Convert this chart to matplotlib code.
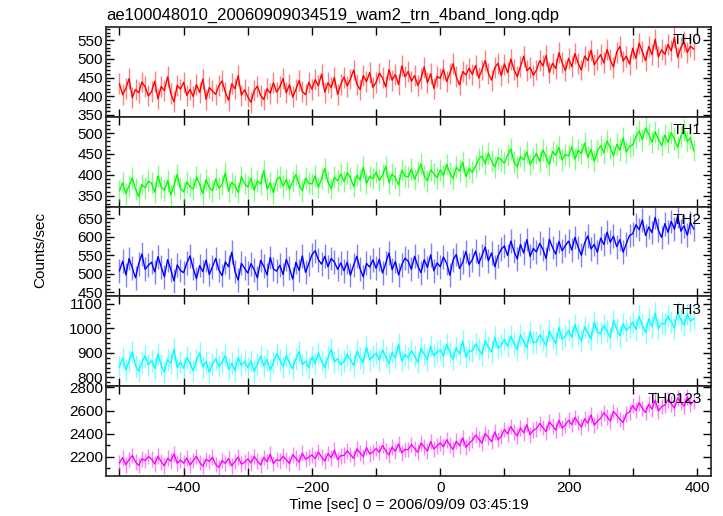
import numpy as np
import matplotlib
matplotlib.use("Agg")
import matplotlib.pyplot as plt
from matplotlib.ticker import MultipleLocator

plt.rcParams['font.family'] = ['Liberation Sans', 'DejaVu Sans']

title = "ae100048010_20060909034519_wam2_trn_4band_long.qdp"
xlabel = "Time [sec] 0 = 2006/09/09 03:45:19"
ylabel = "Counts/sec"
labels = ["TH0", "TH1", "TH2", "TH3", "TH0123"]
colors = ["#ff0000", "#00ff00", "#0000ff", "#00ffff", "#ff00ff"]

t_start = -500
bin_width = 5

th0 = [
    433, 404, 421, 447, 396, 418, 409, 438, 425, 401,
    412, 440, 393, 426, 415, 452, 407, 385, 429, 419,
    437, 402, 418, 399, 431, 410, 446, 392, 423, 414,
    405, 428, 441, 411, 389, 433, 420, 455, 403, 417,
    398, 384, 415, 427, 402, 391, 420, 408, 436, 411,
    425, 447, 409, 431, 398, 418, 442, 413, 404, 437,
    419, 444, 428, 459, 411, 436, 423, 450, 405, 432,
    451, 427, 446, 470, 432, 418, 455, 439, 463, 424,
    437, 462, 449, 425, 471, 443, 458, 431, 481, 452,
    466, 440, 455, 429, 447, 478, 436, 460, 421, 453,
    448, 472, 439, 461, 487, 452, 430, 466, 457, 475,
    458, 482, 449, 470, 495, 461, 443, 476, 488, 455,
    486, 463, 499, 471, 452, 480, 507, 468, 477, 456,
    470, 495, 481, 509, 463, 488, 474, 516, 490, 468,
    501, 479, 514, 488, 470, 507, 495, 523, 484, 498,
    511, 489, 525, 497, 478, 518, 533, 494, 507, 486,
    528, 501, 542, 519, 495, 533, 511, 552, 505, 524,
    512, 538, 521, 557, 504, 530, 545, 517, 534, 526,
]
th1 = [
    362, 381, 355, 374, 392, 366, 348, 377, 369, 385,
    380, 358, 397, 371, 363, 386, 352, 375, 401, 368,
    359, 383, 372, 366, 394, 378, 355, 388, 370, 362,
    390, 368, 377, 405, 361, 382, 374, 358, 395, 379,
    371, 392, 363, 385, 378, 410, 366, 381, 357, 388,
    395, 373, 389, 366, 384, 401, 377, 362, 392, 380,
    378, 398, 370, 391, 415, 383, 367, 394, 386, 402,
    384, 405, 393, 372, 399, 388, 418, 379, 396, 391,
    406, 387, 399, 420, 381, 402, 393, 376, 411, 397,
    395, 414, 389, 408, 426, 398, 385, 412, 403, 393,
    412, 398, 425, 404, 391, 418, 409, 430, 396, 415,
    406, 421, 438, 445, 427, 452, 433, 419, 441, 436,
    428, 447, 462, 431, 419, 444, 436, 455, 425, 439,
    451, 432, 460, 443, 424, 456, 447, 466, 436, 449,
    445, 467, 438, 459, 451, 476, 442, 461, 433, 457,
    470, 453, 481, 465, 446, 473, 459, 488, 455, 468,
    472, 491, 505, 484, 512, 497, 479, 503, 486, 470,
    495, 478, 501, 485, 466, 492, 507, 480, 489, 458,
]
th2 = [
    508, 534, 497, 541, 516, 489, 527, 553, 512, 523,
    531, 505, 546, 519, 492, 538, 511, 481, 524, 509,
    503, 529, 548, 514, 487, 522, 506, 537, 498, 519,
    541, 510, 495, 532, 519, 558, 506, 483, 528, 515,
    502, 527, 511, 489, 536, 520, 497, 544, 513, 507,
    523, 498, 539, 515, 486, 531, 509, 548, 504, 527,
    551, 562, 538, 526, 547, 519, 541, 532, 512, 529,
    508, 531, 496, 524, 547, 513, 492, 528, 518, 537,
    515, 539, 502, 528, 556, 511, 533, 497, 524, 542,
    534, 512, 547, 521, 503, 538, 517, 551, 508, 529,
    519, 545, 528, 496, 537, 552, 514, 531, 560, 524,
    538, 561, 527, 549, 572, 535, 556, 519, 548, 566,
    575, 549, 588, 561, 540, 579, 556, 592, 547, 568,
    559, 582, 566, 541, 593, 571, 553, 587, 562, 576,
    588, 564, 598, 571, 550, 583, 602, 567, 579, 558,
    596, 579, 612, 585, 601, 573, 592, 558, 581, 603,
    608, 632, 619, 645, 603, 626, 611, 652, 617, 598,
    635, 612, 641, 620, 656, 615, 629, 604, 638, 621,
]
th3 = [
    842, 879, 831, 866, 903, 848, 825, 861, 888, 851,
    868, 836, 895, 849, 822, 873, 857, 915, 840, 862,
    837, 881, 858, 826, 869, 899, 843, 864, 821, 856,
    874, 845, 862, 890, 833, 857, 828, 880, 849, 866,
    839, 868, 824, 855, 886, 847, 872, 830, 861, 896,
    871, 843, 889, 858, 835, 876, 905, 852, 866, 840,
    884, 857, 899, 868, 841, 881, 915, 863, 876, 852,
    865, 893, 872, 848, 906, 879, 860, 924, 871, 886,
    898, 871, 912, 884, 857, 901, 878, 935, 866, 893,
    880, 909, 887, 861, 918, 894, 873, 926, 889, 902,
    913, 886, 935, 902, 874, 921, 895, 948, 883, 908,
    908, 936, 915, 893, 951, 922, 904, 963, 918, 931,
    955, 927, 968, 938, 912, 974, 946, 921, 985, 942,
    944, 972, 953, 929, 990, 961, 938, 1003, 956, 968,
    992, 963, 1015, 975, 948, 1006, 981, 957, 1026, 984,
    979, 1012, 988, 962, 1031, 997, 970, 1019, 991, 1005,
    1026, 995, 1048, 1012, 983, 1039, 1007, 1062, 998, 1021,
    1017, 1049, 1026, 1001, 1066, 1035, 1012, 1057, 1029, 1040,
]
th0123 = [
    2148, 2192, 2131, 2176, 2210, 2155, 2124, 2183, 2167, 2201,
    2179, 2138, 2205, 2157, 2121, 2186, 2162, 2226, 2143, 2171,
    2144, 2189, 2127, 2168, 2203, 2151, 2118, 2177, 2159, 2195,
    2132, 2108, 2167, 2143, 2185, 2121, 2159, 2197, 2136, 2152,
    2181, 2147, 2203, 2162, 2129, 2194, 2158, 2222, 2141, 2176,
    2166, 2205, 2174, 2141, 2218, 2187, 2153, 2231, 2179, 2196,
    2216, 2183, 2241, 2197, 2164, 2228, 2191, 2257, 2176, 2209,
    2212, 2251, 2219, 2186, 2268, 2233, 2201, 2279, 2224, 2243,
    2271, 2237, 2298, 2252, 2215, 2284, 2246, 2312, 2233, 2263,
    2262, 2305, 2271, 2238, 2319, 2285, 2249, 2331, 2267, 2293,
    2321, 2286, 2347, 2301, 2263, 2334, 2296, 2362, 2282, 2315,
    2342, 2387, 2355, 2318, 2401, 2369, 2331, 2415, 2348, 2376,
    2437, 2398, 2461, 2416, 2379, 2449, 2408, 2478, 2391, 2429,
    2443, 2488, 2452, 2417, 2503, 2468, 2431, 2516, 2449, 2474,
    2517, 2479, 2541, 2496, 2458, 2529, 2491, 2562, 2474, 2508,
    2534, 2581, 2546, 2509, 2593, 2561, 2523, 2498, 2572, 2588,
    2643, 2602, 2668, 2619, 2584, 2655, 2613, 2689, 2597, 2634,
    2648, 2694, 2659, 2621, 2708, 2673, 2637, 2719, 2652, 2681,
]
errors = [28, 26, 32, 45, 68]

series = [th0, th1, th2, th3, th0123]
ylims = [(345, 585), (324, 539), (439, 681), (764, 1130), (2033, 2811)]
ymajor = [50, 50, 50, 100, 200]
yminor = [10, 10, 10, 20, 100]

fig = plt.figure(figsize=(7.23, 5.16), dpi=100)
left, right, top, bottom = 0.1466, 0.9834, 0.9477, 0.0775
h = (top - bottom) / 5

for i, (vals, col, lab) in enumerate(zip(series, colors, labels)):
    ax = fig.add_axes([left, top - (i + 1) * h, right - left, h])
    y = np.array(vals, dtype=float)
    t = t_start + bin_width * np.arange(len(y))
    ax.errorbar(t, y, yerr=errors[i], fmt='none', ecolor=col, elinewidth=1.0,
                alpha=0.5, zorder=2)
    ax.plot(t, y, color=col, lw=1.0, zorder=3)
    ax.set_xlim(-521, 422)
    ax.set_ylim(*ylims[i])
    ax.xaxis.set_major_locator(MultipleLocator(200))
    ax.xaxis.set_minor_locator(MultipleLocator(100))
    ax.yaxis.set_major_locator(MultipleLocator(ymajor[i]))
    ax.yaxis.set_minor_locator(MultipleLocator(yminor[i]))
    ax.tick_params(which='both', direction='in', top=True, right=True,
                   labelsize=11, colors='black', width=1)
    ax.tick_params(which='major', length=6)
    ax.tick_params(which='minor', length=3)
    ax.tick_params(axis='x', which='minor', length=6)
    ax.tick_params(axis='y', pad=2)
    for s in ax.spines.values():
        s.set_linewidth(1.2)
        s.set_color('#222222')
    if i < 4:
        ax.tick_params(labelbottom=False)
    else:
        ax.set_xlabel(xlabel, fontsize=11, labelpad=2)
    ax.text(0.985, 0.93, lab, transform=ax.transAxes, ha='right', va='top',
            fontsize=11, zorder=5)
    if i == 0:
        ax.set_title(title, loc='left', fontsize=12, pad=5)

fig.text(0.055, 0.515, ylabel, rotation=90, ha='center', va='center', fontsize=11)

fig.savefig("out.png", dpi=100)
